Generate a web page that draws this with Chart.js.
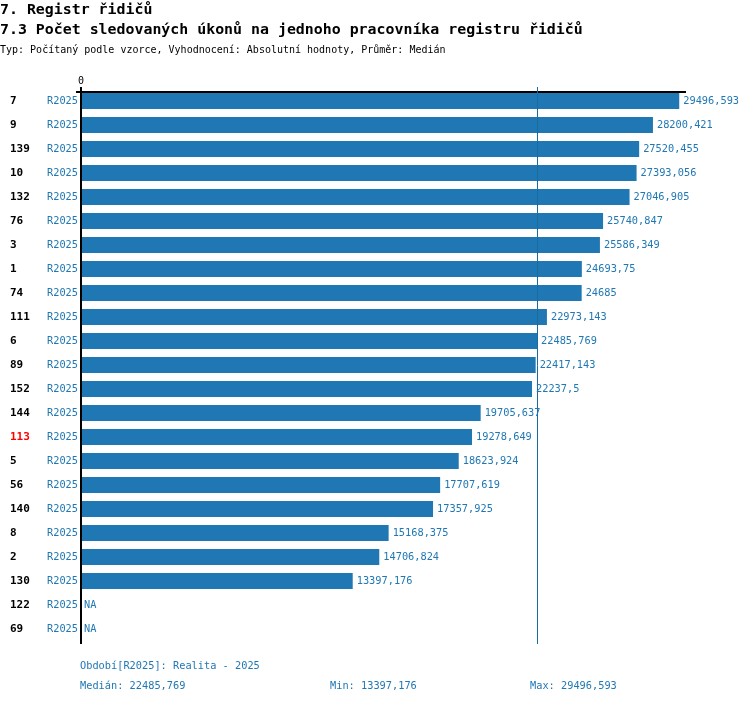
<!DOCTYPE html>
<html>
<head>
<meta charset="utf-8">
<script src="https://cdn.jsdelivr.net/npm/chart.js@4/dist/chart.umd.min.js"></script>
<style>
html,body{margin:0;padding:0;background:#fff;}
#wrap{position:relative;width:750px;height:704px;}
canvas{display:block;}
</style>
</head>
<body>
<div id="wrap"><canvas id="c" width="750" height="704"></canvas></div>
<script>
const titleMain = "7. Registr řidičů";
const titleSub = "7.3 Počet sledovaných úkonů na jednoho pracovníka registru řidičů";
const subtitle = "Typ: Počítaný podle vzorce, Vyhodnocení: Absolutní hodnoty, Průměr: Medián";
const categories = ["7","9","139","10","132","76","3","1","74","111","6","89","152","144","113","5","56","140","8","2","130","122","69"];
const periods = ["R2025","R2025","R2025","R2025","R2025","R2025","R2025","R2025","R2025","R2025","R2025","R2025","R2025","R2025","R2025","R2025","R2025","R2025","R2025","R2025","R2025","R2025","R2025"];
const values = [29496.593,28200.421,27520.455,27393.056,27046.905,25740.847,25586.349,24693.75,24685,22973.143,22485.769,22417.143,22237.5,19705.637,19278.649,18623.924,17707.619,17357.925,15168.375,14706.824,13397.176,null,null];
const highlighted = ["113"];
const medianValue = 22485.769;
const minValue = 13397.176;
const maxValue = 29496.593;
const periodLegend = "Období[R2025]: Realita - 2025";
const xTicks = [0];

const BLUE = '#1f77b4';
const MONO = '"DejaVu Sans Mono", "Liberation Mono", monospace';
const fmt = v => String(v).replace('.', ',');

const decor = {
  id: 'decor',
  afterDatasetsDraw(chart) {
    const ctx = chart.ctx;
    const xs = chart.scales.x, ys = chart.scales.y;
    const ca = chart.chartArea;
    ctx.save();
    // titles
    ctx.fillStyle = '#000';
    ctx.textBaseline = 'middle';
    ctx.textAlign = 'left';
    ctx.font = 'bold 14.9px ' + MONO;
    ctx.fillText(titleMain, 0, 10);
    ctx.fillText(titleSub, 0, 30);
    ctx.font = '10px ' + MONO;
    ctx.fillText(subtitle, 0, 50);
    // tick labels
    xTicks.forEach(t => {
      ctx.textAlign = 'center';
      ctx.fillText(String(t), xs.getPixelForValue(t), 81);
    });
    // axis lines
    const x0 = Math.round(xs.getPixelForValue(0));
    ctx.fillStyle = '#000';
    ctx.fillRect(x0 - 1, 87, 2, 644 - 87);
    ctx.fillRect(76, 91, ca.right - 76, 2);
    // median line
    const xm = Math.round(xs.getPixelForValue(medianValue)) + 0.5;
    ctx.strokeStyle = '#1a6aa3';
    ctx.lineWidth = 1;
    ctx.beginPath();
    ctx.moveTo(xm, 87);
    ctx.lineTo(xm, 644);
    ctx.stroke();
    // row labels and value labels
    categories.forEach((c, i) => {
      const y = ys.getPixelForValue(i);
      ctx.textAlign = 'left';
      ctx.font = 'bold 11px ' + MONO;
      ctx.fillStyle = highlighted.includes(c) ? '#ff0000' : '#000';
      ctx.fillText(c, 10, y);
      ctx.font = '10.3px ' + MONO;
      ctx.fillStyle = BLUE;
      ctx.textAlign = 'right';
      ctx.fillText(periods[i], 78, y);
      ctx.textAlign = 'left';
      const v = values[i];
      if (v === null) {
        ctx.fillText('NA', x0 + 3, y);
      } else {
        ctx.fillText(fmt(v), xs.getPixelForValue(v) + 4, y);
      }
    });
    // footer
    ctx.font = '10.3px ' + MONO;
    ctx.fillStyle = BLUE;
    ctx.textAlign = 'left';
    ctx.fillText(periodLegend, 80, 666);
    ctx.fillText('Medián: ' + fmt(medianValue), 80, 686);
    ctx.fillText('Min: ' + fmt(minValue), 330, 686);
    ctx.fillText('Max: ' + fmt(maxValue), 530, 686);
    ctx.restore();
  }
};

new Chart(document.getElementById('c'), {
  type: 'bar',
  data: {
    labels: categories,
    datasets: [{
      data: values,
      backgroundColor: BLUE,
      borderWidth: 0,
      categoryPercentage: 1,
      barPercentage: 16 / 24
    }]
  },
  options: {
    indexAxis: 'y',
    responsive: false,
    animation: false,
    devicePixelRatio: 1,
    layout: { padding: { left: 81, right: 64, top: 89, bottom: 63 } },
    plugins: { legend: { display: false }, tooltip: { enabled: false }, title: { display: false } },
    scales: {
      x: { display: false, min: 0, max: Math.max(...values.filter(v => v !== null)) * 1.0113 },
      y: { display: false }
    }
  },
  plugins: [decor]
});
</script>
</body>
</html>
